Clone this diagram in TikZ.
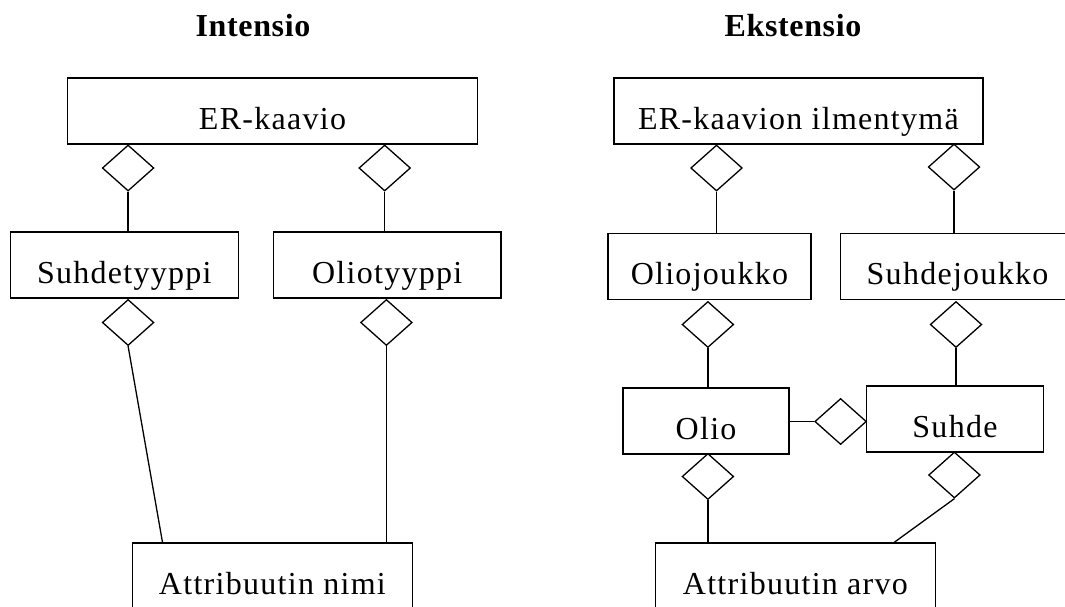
\documentclass[tikz,border=0pt]{standalone}
\usepackage{fontspec}
\setmainfont{Liberation Serif}
\newfontfamily\boxfont{Liberation Serif}[LetterSpace=4]
\newfontfamily\titlefont{Liberation Serif}[LetterSpace=2]
\usetikzlibrary{shapes.geometric}
\tikzset{
  entity/.style={draw, line width=1.4pt, inner sep=0pt, minimum height=66pt,
    text height=51pt, text depth=15pt, font=\boxfont\fontsize{32}{38}\selectfont},
  agg/.style={draw, diamond, line width=1.3pt, inner sep=0pt, minimum width=51.6pt, minimum height=46pt},
  conn/.style={line width=1.3pt},
  ttl/.style={anchor=base, inner sep=0pt, font=\titlefont\bfseries\fontsize{32}{38}\selectfont}
}
\begin{document}
\begin{tikzpicture}[x=1pt,y=-1pt]
\useasboundingbox (0,0) rectangle (1065,606);
\clip (0,0) rectangle (1065,606);
\fill[white] (0,0) rectangle (1065,606);
% titles
\node[ttl] (t1) at (253,36) {Intensio};
\node[ttl] (t2) at (793,36) {Ekstensio};
% left: intension
\node[entity, minimum width=409.5pt] (er1) at (272.5,111) {ER-kaavio};
\node[entity, minimum width=228pt] (suhdetyyppi) at (124.3,265) {Suhdetyyppi};
\node[entity, minimum width=227.6pt] (oliotyyppi) at (387.2,265) {Oliotyyppi};
\node[entity, minimum width=279.6pt] (attrnimi) at (272.4,576) {Attribuutin nimi};
\node[agg] (d1) at (128.1,168) {};
\node[agg] (d2) at (384.7,168) {};
\node[agg] (d3) at (128.1,322.5) {};
\node[agg] (d4) at (386.4,322.5) {};
\draw[conn] (d1.south) -- (d1.south |- suhdetyyppi.north);
\draw[conn] (d2.south) -- (d2.south |- oliotyyppi.north);
\coordinate (an1) at ([xshift=30.6pt]attrnimi.north west);
\draw[conn] (d3.south) -- (an1);
\draw[conn] (d4.south) -- (d4.south |- attrnimi.north);
% right: extension
\node[entity, minimum width=369.2pt] (er2) at (798.4,111) {ER-kaavion ilmentymä};
\node[entity, minimum width=202.8pt] (oliojoukko) at (709.4,266.5) {Oliojoukko};
\node[entity, minimum width=234pt] (suhdejoukko) at (957.5,266.5) {Suhdejoukko};
\node[entity, minimum width=166pt] (olio) at (706.1,421) {Olio};
\node[entity, minimum width=176.7pt] (suhde) at (955,419) {Suhde};
\node[entity, minimum width=280.3pt] (attrarvo) at (795.4,576) {Attribuutin arvo};
\node[agg] (d5) at (716.5,168) {};
\node[agg] (d6) at (954,167) {};
\node[agg] (d7) at (707.9,324.5) {};
\node[agg] (d8) at (956,324.5) {};
\node[agg] (d9) at (840.6,421.5) {};
\node[agg] (d10) at (707.9,476.5) {};
\node[agg] (d11) at (954.4,475) {};
\draw[conn] (d5.south) -- (d5.south |- oliojoukko.north);
\draw[conn] (d6.south) -- (d6.south |- suhdejoukko.north);
\draw[conn] (d7.south) -- (d7.south |- olio.north);
\draw[conn] (d8.south) -- (d8.south |- suhde.north);
\draw[conn] (d9.west -| olio.east) -- (d9.west);
\draw[conn] (d10.south) -- (d10.south |- attrarvo.north);
\coordinate (an2) at ([xshift=-42pt]attrarvo.north east);
\draw[conn] (d11.south) -- (an2);
\end{tikzpicture}
\end{document}
